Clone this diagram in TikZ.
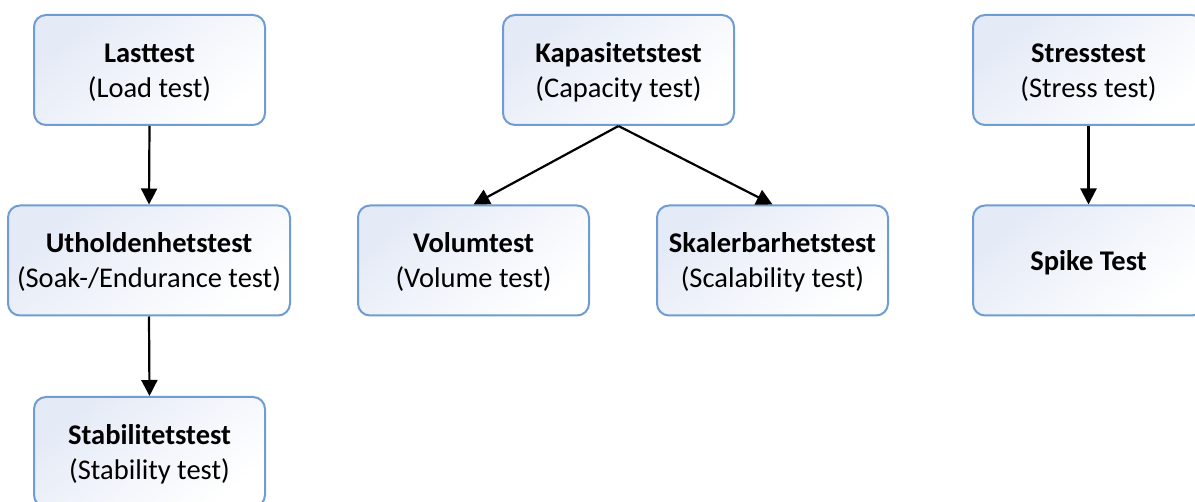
\documentclass[tikz,border=0pt]{standalone}
\usepackage{fontspec}
\setmainfont{Carlito}
\usetikzlibrary{arrows.meta}
\definecolor{boxedge}{HTML}{6F9DD3}
\definecolor{boxtint}{HTML}{E4EAF6}
% two-line label: bold Norwegian name over the English name, set a little low
\newcommand\twoline[2]{\raisebox{-3pt}[\height][\depth]{\begin{tabular}{@{}c@{}}\textbf{#1}\\#2\end{tabular}}}
\tikzset{
  testbox/.style={draw=boxedge, line width=2pt, rounded corners=12pt,
    minimum width=231pt, minimum height=110pt, align=center,
    top color=boxtint, bottom color=white, shading angle=40,
    font=\fontsize{28.5}{35}\selectfont, inner sep=0pt},
  link/.style={line width=2.2pt, -{Triangle[width=16pt,length=16pt]}}
}
\begin{document}
\begin{tikzpicture}[x=1pt,y=-1pt]
  \clip (0,0) rectangle (1195,502);
  \useasboundingbox (0,0) rectangle (1195,502);
  \fill[white] (0,0) rectangle (1195,502);
  % load test chain
  \node[testbox] (last) at (149.5,70) {\twoline{Lasttest}{(Load test)}};
  \node[testbox, minimum width=282pt] (uth) at (149,260.5) {\twoline{Utholdenhetstest}{(Soak-/Endurance test)}};
  \node[testbox] (stab) at (149.5,452) {\twoline{Stabilitetstest}{(Stability test)}};
  % capacity branch
  \node[testbox] (kap) at (618.5,70) {\twoline{Kapasitetstest}{(Capacity test)}};
  \node[testbox] (vol) at (473.5,260.5) {\twoline{Volumtest}{(Volume test)}};
  \node[testbox] (skal) at (772.5,260.5) {\twoline{Skalerbarhetstest}{(Scalability test)}};
  % stress chain
  \node[testbox] (stress) at (1088.5,70) {\twoline{Stresstest}{(Stress test)}};
  \node[testbox] (spike) at (1088.5,260.5) {\raisebox{-2pt}[\height][\depth]{\textbf{Spike Test}}};
  % connectors
  \draw[link] (last.south) -- (uth.north);
  \draw[link] (uth.south) -- (stab.north);
  \draw[link] (kap.south) -- (vol.north);
  \draw[link] (kap.south) -- (skal.north);
  \draw[link] (stress.south) -- (spike.north);
\end{tikzpicture}
\end{document}
